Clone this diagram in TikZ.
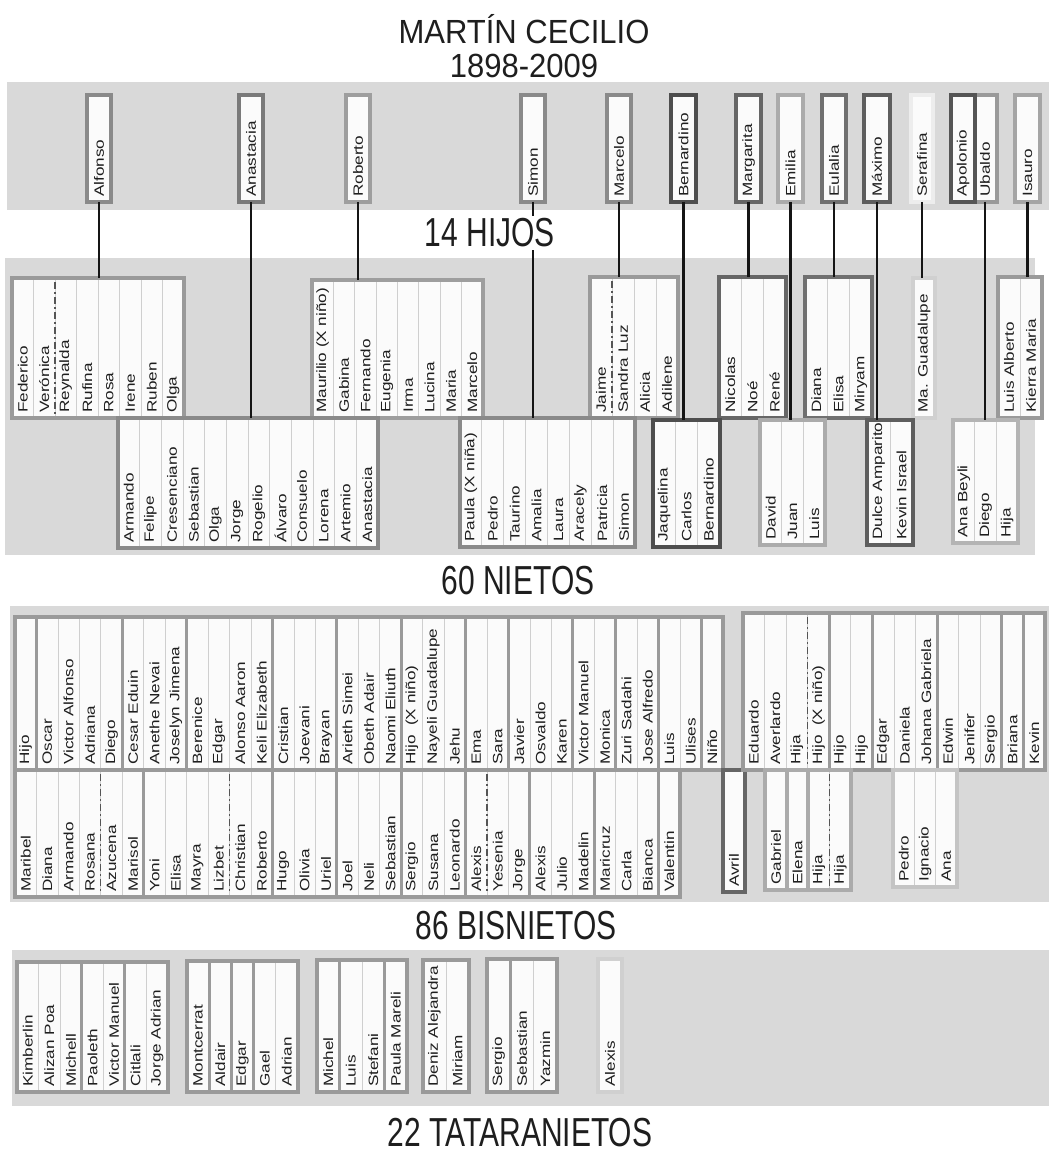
\documentclass[tikz,border=0pt]{standalone}
\usepackage{fontspec}
\setmainfont{Liberation Sans}
\definecolor{bandgray}{HTML}{D9D9D9}
\definecolor{colfill}{HTML}{FBFBFB}
\definecolor{sepc}{HTML}{CFCFCF}
\definecolor{txtc}{HTML}{1E1E1E}
\definecolor{cplc}{HTML}{555555}
\definecolor{connc}{HTML}{151515}
\definecolor{cA}{HTML}{8A8A8A}
\definecolor{cB}{HTML}{7A7A7A}
\definecolor{cC}{HTML}{9E9E9E}
\definecolor{cD}{HTML}{4E4E4E}
\definecolor{cE}{HTML}{666666}
\definecolor{cF}{HTML}{ABABAB}
\definecolor{cG}{HTML}{707070}
\definecolor{cH}{HTML}{5E5E5E}
\definecolor{cI}{HTML}{EDEDED}
\definecolor{cJ}{HTML}{555555}
\definecolor{cK}{HTML}{9A9A9A}
\definecolor{cL}{HTML}{A5A5A5}
\definecolor{cM}{HTML}{D0D0D0}
\definecolor{cN}{HTML}{B4B4B4}
\definecolor{cO}{HTML}{C4C4C4}
% name, border colour, x0, x1, ytop, ybot, column width, labels
\newcommand\famcols[8]{%
  \node[boxfill, minimum width={#4-#3}, minimum height={#6-#5}] (#1) at (#3,#5) {};
  \foreach \lab [count=\i from 0] in {#8}{%
    \ifnum\i>0 \draw[sep] ({#3+\i*#7},#5) -- ({#3+\i*#7},#6);\fi
    \node[lbl] (#1-\i) at ({#3+(\i+0.5)*#7},{#6-5}) {\lab};
  }%
  \draw[line width=4pt, draw=#2] (#1.north west) rectangle (#1.south east);
}
\begin{document}
\begin{tikzpicture}[x=1pt,y=-1pt,
  lbl/.style={yscale=1.27, rotate=90, anchor=west, inner sep=0pt, text=txtc, font=\fontsize{13.5}{14}\selectfont},
  boxfill/.style={fill=colfill, draw=none, inner sep=0pt, outer sep=0pt, anchor=north west},
  sep/.style={draw=sepc, line width=0.8pt},
  grp/.style={draw=#1, line width=3pt},
  cpl/.style={draw=cplc, line width=1.2pt, dash pattern=on 7pt off 3pt on 2pt off 3pt},
  conn/.style={draw=connc, line width=2.6pt},
  ttl/.style={yscale=1.08, inner sep=0pt, text=txtc, font=\fontsize{31}{33}\selectfont},
  sect/.style={yscale=1.35, inner sep=2pt, text=txtc, font=\fontsize{30}{32}\selectfont},
]
\fill[white] (0,0) rectangle (1049,1158);
\useasboundingbox (0,0) rectangle (1049,1158);
% background bands
\fill[bandgray] (7,82) rectangle (1049,210);
\fill[bandgray] (5,258) rectangle (1035,555);
\fill[bandgray] (10,606) rectangle (1049,902);
\fill[bandgray] (12,950) rectangle (1049,1106);
% title
\node[ttl, anchor=base] (tMain) at (524,44) {MARTÍN CECILIO};
\node[ttl, anchor=base] (tYear) at (524,78) {1898-2009};
% ---------------- 14 hijos
\famcols{hAlf}{cA}{87}{111}{95}{202}{24}{Alfonso}
\famcols{hAna}{cB}{239}{263}{95}{202}{24}{Anastacia}
\famcols{hRob}{cC}{346}{370}{95}{202}{24}{Roberto}
\famcols{hSim}{cA}{521}{545}{95}{202}{24}{Simon}
\famcols{hMar}{cA}{607}{631}{95}{202}{24}{Marcelo}
\famcols{hBer}{cD}{671}{696}{95}{202}{25}{Bernardino}
\famcols{hMgt}{cE}{736}{761}{95}{202}{25}{Margarita}
\famcols{hEmi}{cF}{778}{803}{95}{202}{25}{Emilia}
\famcols{hEul}{cG}{822}{846}{95}{202}{24}{Eulalia}
\famcols{hMax}{cH}{864}{890}{95}{202}{26}{Máximo}
\famcols{hSer}{cI}{911}{933}{95}{202}{22}{Serafina}
\famcols{hUba}{cK}{973}{997}{95}{202}{24}{Ubaldo}
\famcols{hApo}{cJ}{951}{975}{95}{202}{24}{Apolonio}
\famcols{hIsa}{cL}{1015}{1040}{95}{202}{25}{Isauro}
% ---------------- nietos, first row
\famcols{nAlf}{cK}{12}{184}{278}{418}{21.5}{Federico,Verónica,Reynalda,Rufina,Rosa,Irene,Ruben,Olga}
\draw[cpl] (55,282) -- (55,414);
\famcols{nRob}{cC}{312}{483}{280}{418}{21.375}{{Maurilio (X niño)},Gabina,Fernando,Eugenia,Irma,Lucina,Maria,Marcelo}
\famcols{nMar}{cK}{590}{678}{277}{418}{22}{Jaime,Sandra Luz,Alicia,Adilene}
\draw[cpl] (612,281) -- (612,414);
\famcols{nMgt}{cE}{719}{786}{277}{418}{22.33}{Nicolas,Noé,René}
\famcols{nEul}{cG}{805}{872}{277}{418}{22.33}{Diana,Elisa,Miryam}
\famcols{nSer}{cM}{913}{935}{278}{418}{22}{Ma. Guadalupe}
\famcols{nIsa}{cK}{998}{1042}{277}{418}{22}{Luis Alberto,Kierra Maria}
% ---------------- nietos, second row
\famcols{nAna}{cA}{118}{378}{418}{548}{21.667}{Armando,Felipe,Cresenciano,Sebastian,Olga,Jorge,Rogelio,Álvaro,Consuelo,Lorena,Artemio,Anastacia}
\famcols{nSim}{cA}{460}{635}{418}{547}{21.875}{{Paula (X niña)},Pedro,Taurino,Amalia,Laura,Aracely,Patricia,Simon}
\famcols{nBer}{cD}{653}{720}{420}{547}{22.33}{Jaquelina,Carlos,Bernardino}
\famcols{nEmi}{cF}{760}{825}{420}{545}{21.667}{David,Juan,Luis}
\famcols{nMax}{cH}{867}{913}{420}{545}{23}{Dulce Amparito,Kevin Israel}
\famcols{nUba}{cN}{953}{1018}{420}{543}{21.667}{Ana Beyli,Diego,Hija}
% connectors hijo -> nietos
\foreach \a/\b in {hAlf/nAlf,hAna/nAna,hRob/nRob,hSim/nSim,hMar/nMar,hBer/nBer,hMgt/nMgt,hEmi/nEmi,hEul/nEul,hMax/nMax,hSer/nSer,hUba/nUba,hIsa/nIsa}
  \draw[conn] (\a.south) -- (\a.south |- \b.north);
% ---------------- bisnietos
\famcols{lb1}{cK}{15}{723}{617}{770}{21.4545}{Hijo,Oscar,Victor Alfonso,Adriana,Diego,Cesar Eduin,Anethe Nevai,Joselyn Jimena,Berenice,Edgar,Alonso Aaron,Keli Elizabeth,Cristian,Joevani,Brayan,Arieth Simei,Obeth Adair,Naomi Eliuth,{Hijo~~(X niño)},Nayeli Guadalupe,Jehu,Ema,Sara,Javier,Osvaldo,Karen,Victor Manuel,Monica,Zuri Sadahi,Jose Alfredo,Luis,Ulises,Niño}
\foreach \k in {1,5,8,12,15,18,21,23,26,28,30,32}
  \draw[grp=cK] ({15+\k*21.4545},617) -- ({15+\k*21.4545},770);
\famcols{lb2}{cK}{15}{680}{770}{897}{21.4545}{Maribel,Diana,Armando,Rosana,Azucena,Marisol,Yoni,Elisa,Mayra,Lizbet,Christian,Roberto,Hugo,Olivia,Uriel,Joel,Neli,Sebastian,Sergio,Susana,Leonardo,Alexis,Yesenia,Jorge,Alexis,Julio,Madelin,Maricruz,Carla,Bianca,Valentin}
\foreach \k in {6,12,15,18,21,24,27,30}
  \draw[grp=cK] ({15+\k*21.4545},770) -- ({15+\k*21.4545},897);
\foreach \k in {4,10,22}
  \draw[cpl] ({15+\k*21.4545},774) -- ({15+\k*21.4545},893);
\famcols{bAv}{cE}{723}{745}{770}{892}{22}{Avril}
\famcols{rb1}{cK}{743}{1045}{613}{770}{21.571}{Eduardo,Averlardo,Hija,{Hijo~~(X niño)},Hijo,Hijo,Edgar,Daniela,Johana Gabriela,Edwin,Jenifer,Sergio,Briana,Kevin}
\foreach \k in {4,6,9,12,13}
  \draw[grp=cK] ({743+\k*21.571},613) -- ({743+\k*21.571},770);
\draw[cpl] ({743+3*21.571},617) -- ({743+3*21.571},766);
\famcols{rbG}{cF}{765}{787}{770}{890}{22}{Gabriel}
\famcols{rbE}{cF}{787}{808}{770}{890}{21}{Elena}
\famcols{rbH}{cF}{808}{851}{770}{890}{21.5}{Hija,Hija}
\draw[cpl] (829.5,774) -- (829.5,886);
\famcols{rbP}{cO}{893}{957}{770}{887}{21.333}{Pedro,Ignacio,Ana}
% ---------------- tataranietos
\famcols{t1}{cK}{17}{168}{962}{1092}{21.571}{Kimberlin,Alizan Poa,Michell,Paoleth,Victor Manuel,Citlali,Jorge Adrian}
\foreach \k in {3,5} \draw[grp=cK] ({17+\k*21.571},962) -- ({17+\k*21.571},1092);
\famcols{t2}{cK}{187}{298}{961}{1092}{22.2}{Montcerrat,Aldair,Edgar,Gael,Adrian}
\foreach \k in {1,2,3} \draw[grp=cK] ({187+\k*22.2},961) -- ({187+\k*22.2},1092);
\famcols{t3}{cK}{317}{407}{960}{1092}{22.5}{Michel,Luis,Stefani,Paula Mareli}
\foreach \k in {1,3} \draw[grp=cK] ({317+\k*22.5},960) -- ({317+\k*22.5},1092);
\famcols{t4}{cK}{423}{469}{960}{1092}{23}{Deniz Alejandra,Miriam}
\famcols{t5}{cK}{487}{557}{959}{1092}{23.33}{Sergio,Sebastian,Yazmin}
\draw[grp=cK] ({487+23.33},959) -- ({487+23.33},1092);
\famcols{t6}{cM}{598}{622}{959}{1092}{24}{Alexis}
% ---------------- section titles
\node[sect, fill=white] (tHijos) at (490,233) {14 HIJOS};
\node[sect] (tNietos) at (518,581) {60 NIETOS};
\node[sect] (tBis) at (516,926) {86 BISNIETOS};
\node[sect] (tTat) at (520,1133) {22 TATARANIETOS};
\end{tikzpicture}
\end{document}
